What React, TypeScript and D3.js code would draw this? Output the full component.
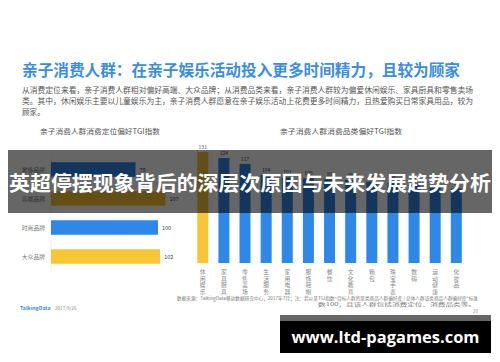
import React, { useEffect, useRef } from "react";
import * as d3 from "d3";

// left chart: consumption positioning TGI
const posCategories = ["奢侈品牌", "高端品牌", "时尚品牌", "大众品牌"];
const posValues = [79, 107, 100, 102];
const posColors = ["#2e88e8", "#f8c635", "#2e88e8", "#f8c635"];

// right chart: consumption category TGI
const catCategories = ["休闲娱乐", "家具厨具", "零售卖场", "生活服务", "家用电器", "服饰鞋帽", "餐饮", "文化教育", "箱包", "珠宝手表", "数码", "运动健康", "化妆品"];
const catValues = [131, 124, 117, 104, 101, 100, 99, 98, 96, 95, 93, 91, 88];

const title = "亲子消费人群：在亲子娱乐活动投入更多时间精力，且较为顾家";
const paragraph = [
  "从消费定位来看，亲子消费人群相对偏好高端、大众品牌；从消费品类来看，亲子消费人群较为偏爱休闲娱乐、家具厨具和零售卖场",
  "类。其中，休闲娱乐主要以儿童娱乐为主，亲子消费人群愿意在亲子娱乐活动上花费更多时间精力，且热爱购买日常家具用品，较为",
  "顾家。",
];
const leftTitle = "亲子消费人群消费定位偏好TGI指数";
const rightTitle = "亲子消费人群消费品类偏好TGI指数";
const sourceNote = [
  "数据来源：TalkingData移动数据研究中心，2017年7月；注：若以某TGI指数=目标人群的某类商品人群偏好度 / 总体人群该类商品人群偏好度*标准",
  "数100，且该人群包括消费定位、消费品类等。",
];
const banner = "英超停摆现象背后的深层次原因与未来发展趋势分析";
const site = "www.ltd-pagames.com";

const font = "'Noto Sans CJK SC', 'Noto Sans', sans-serif";

export default function App() {
  const ref = useRef<SVGSVGElement>(null);

  useEffect(() => {
    const svg = d3.select(ref.current);
    svg.selectAll("*").remove();

    svg.append("rect").attr("width", 500).attr("height", 362).attr("fill", "#fff");

    // heading
    svg.append("text")
      .attr("x", 22).attr("y", 76)
      .attr("font-size", 15.5).attr("font-weight", 700)
      .attr("fill", "#3b8de0")
      .attr("textLength", 438).attr("lengthAdjust", "spacingAndGlyphs")
      .text(title);

    const para = [473, 473, 0];
    paragraph.forEach((line, i) => {
      const t = svg.append("text")
        .attr("x", 22).attr("y", 93 + i * 11)
        .attr("font-size", 7.6).attr("fill", "#555")
        .text(line);
      if (para[i]) t.attr("textLength", para[i] - 22).attr("lengthAdjust", "spacingAndGlyphs");
    });

    // chart titles
    svg.append("text").attr("x", 40).attr("y", 134).attr("font-size", 7).attr("fill", "#555")
      .attr("textLength", 120).attr("lengthAdjust", "spacingAndGlyphs").text(leftTitle);
    svg.append("text").attr("x", 280).attr("y", 134).attr("font-size", 7).attr("fill", "#555")
      .attr("textLength", 122).attr("lengthAdjust", "spacingAndGlyphs").text(rightTitle);

    // left horizontal bars
    const yL = d3.scaleBand().domain(posCategories).range([155, 271]).paddingInner(0.5).paddingOuter(0.25);
    const xL = d3.scaleLinear().domain([0, 100]).range([51, 158]);

    svg.append("line").attr("x1", 51).attr("x2", 51).attr("y1", 155).attr("y2", 271)
      .attr("stroke", "#e6e6e6").attr("stroke-width", 0.6);

    svg.selectAll(".pbar").data(posValues).enter().append("rect")
      .attr("x", xL(0))
      .attr("y", (d, i) => yL(posCategories[i])!)
      .attr("width", d => xL(d) - xL(0))
      .attr("height", yL.bandwidth())
      .attr("fill", (d, i) => posColors[i]);

    svg.selectAll(".plab").data(posValues).enter().append("text")
      .attr("x", d => xL(d) + 4)
      .attr("y", (d, i) => yL(posCategories[i])! + yL.bandwidth() / 2 + 2)
      .attr("font-size", 5.5).attr("fill", "#444")
      .text(d => d);

    svg.selectAll(".pcat").data(posCategories).enter().append("text")
      .attr("x", 45)
      .attr("y", d => yL(d)! + yL.bandwidth() / 2 + 2)
      .attr("text-anchor", "end")
      .attr("font-size", 5.8).attr("fill", "#777")
      .text(d => d);

    // right vertical bars
    const xR = d3.scaleBand().domain(catCategories).range([192.2, 466.9]).paddingInner(0.48).paddingOuter(0.24);
    const yR = d3.scaleLinear().domain([0, 100]).range([263, 178.3]);

    svg.selectAll(".cbar").data(catValues).enter().append("rect")
      .attr("x", (d, i) => xR(catCategories[i])!)
      .attr("y", d => yR(d))
      .attr("width", xR.bandwidth())
      .attr("height", d => yR(0) - yR(d))
      .attr("fill", (d, i) => (i === 0 ? "#f8c635" : "#2e88e8"));

    svg.selectAll(".clab").data(catValues).enter().append("text")
      .attr("x", (d, i) => xR(catCategories[i])! + xR.bandwidth() / 2)
      .attr("y", d => yR(d) - 3)
      .attr("text-anchor", "middle")
      .attr("font-size", 5).attr("fill", "#444")
      .text(d => d);

    catCategories.forEach(c => {
      const cx = xR(c)! + xR.bandwidth() / 2;
      Array.from(c).forEach((ch, j) => {
        svg.append("text")
          .attr("x", cx).attr("y", 274 + j * 6.5)
          .attr("text-anchor", "middle")
          .attr("font-size", 5.8).attr("fill", "#888")
          .text(ch);
      });
    });

    // source note + footer
    svg.append("text").attr("x", 177).attr("y", 300).attr("font-size", 4.4).attr("fill", "#777")
      .attr("textLength", 301).attr("lengthAdjust", "spacingAndGlyphs").text(sourceNote[0]);
    svg.append("text").attr("x", 318).attr("y", 306).attr("font-size", 4.4).attr("fill", "#777")
      .attr("textLength", 158).attr("lengthAdjust", "spacingAndGlyphs").text(sourceNote[1]);
    svg.append("text").attr("x", 478).attr("y", 313).attr("text-anchor", "end")
      .attr("font-size", 4.5).attr("fill", "#999").text("28");

    svg.append("text").attr("x", 20).attr("y", 310).attr("font-size", 5.2).attr("font-weight", 700)
      .attr("fill", "#3b8de0").text("TalkingData");
    svg.append("text").attr("x", 55).attr("y", 310).attr("font-size", 4.6).attr("fill", "#888")
      .text("2017/9/26");

    // banner overlay
    svg.append("rect").attr("x", 8).attr("y", 150).attr("width", 484).attr("height", 63)
      .attr("fill", "rgba(0,0,0,0.6)");
    svg.append("text").attr("x", 250).attr("y", 191)
      .attr("text-anchor", "middle")
      .attr("font-size", 20).attr("font-weight", 700).attr("fill", "#fff")
      .attr("textLength", 482).attr("lengthAdjust", "spacingAndGlyphs")
      .text(banner);

    // site box
    svg.append("rect").attr("x", 280).attr("y", 315).attr("width", 211).attr("height", 6).attr("fill", "#666");
    svg.append("rect").attr("x", 280).attr("y", 321).attr("width", 211).attr("height", 32).attr("fill", "#000");
    svg.append("text").attr("x", 385.5).attr("y", 343)
      .attr("text-anchor", "middle")
      .attr("font-size", 16).attr("font-weight", 700).attr("fill", "#fff")
      .attr("font-family", "'Open Sans', 'DejaVu Sans', sans-serif")
      .attr("textLength", 188).attr("lengthAdjust", "spacingAndGlyphs")
      .text(site);
  }, []);

  return (
    <svg ref={ref} width={500} height={362} fontFamily={font}
      style={{ position: "absolute", left: 0, top: 0 }} />
  );
}
